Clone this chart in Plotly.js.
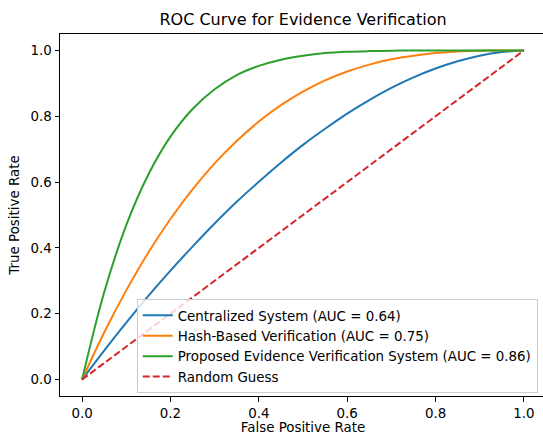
<!DOCTYPE html>
<html>
<head>
<meta charset="utf-8">
<script src="https://cdn.plot.ly/plotly-3.0.1.min.js"></script>
<style>
html, body { margin: 0; padding: 0; overflow: hidden; background: #fff; }
#chart { width: 550px; height: 435px; }
</style>
</head>
<body>
<div id="chart"></div>
<script>
// False positive rate grid
const fpr = [0, 0.05, 0.1, 0.15, 0.2, 0.25, 0.3, 0.35, 0.4, 0.45, 0.5,
             0.55, 0.6, 0.65, 0.7, 0.75, 0.8, 0.85, 0.9, 0.95, 1.0];

// True positive rates
const tprCentralized = [0, 0.088, 0.173, 0.254, 0.331, 0.404, 0.474, 0.540, 0.601, 0.659, 0.713,
                        0.762, 0.808, 0.849, 0.886, 0.918, 0.945, 0.967, 0.984, 0.995, 1.0];
const tprHash = [0, 0.143, 0.271, 0.386, 0.488, 0.578, 0.657, 0.725, 0.784, 0.834, 0.875,
                 0.909, 0.936, 0.957, 0.973, 0.984, 0.992, 0.997, 0.999, 1.0, 1.0];
const tprProposed = [0, 0.265, 0.469, 0.623, 0.738, 0.822, 0.882, 0.925, 0.953, 0.972, 0.984,
                     0.992, 0.996, 0.998, 0.999, 1.0, 1.0, 1.0, 1.0, 1.0, 1.0];
const randomX = [0, 1];
const randomY = [0, 1];

const seriesNames = [
  "Centralized System (AUC = 0.64)",
  "Hash-Based Verification (AUC = 0.75)",
  "Proposed Evidence Verification System (AUC = 0.86)",
  "Random Guess"
];
const tickVals = [0, 0.2, 0.4, 0.6, 0.8, 1.0];
const tickText = ["0.0", "0.2", "0.4", "0.6", "0.8", "1.0"];

const FONT = "DejaVu Sans, sans-serif";

const traces = [
  { x: fpr, y: tprCentralized, name: seriesNames[0], mode: "lines",
    line: { color: "#1f77b4", width: 2, shape: "spline", smoothing: 1 } },
  { x: fpr, y: tprHash, name: seriesNames[1], mode: "lines",
    line: { color: "#ff7f0e", width: 2, shape: "spline", smoothing: 1 } },
  { x: fpr, y: tprProposed, name: seriesNames[2], mode: "lines",
    line: { color: "#2ca02c", width: 2, shape: "spline", smoothing: 1 } },
  { x: randomX, y: randomY, name: seriesNames[3], mode: "lines",
    line: { color: "#d62728", width: 2, dash: "7px,3px" } }
];

const axisCommon = {
  showgrid: false, zeroline: false,
  showline: true, mirror: true, linecolor: "#000", linewidth: 1,
  ticks: "outside", ticklen: 4.5, tickwidth: 1, tickcolor: "#000",
  tickvals: tickVals, ticktext: tickText,
  tickfont: { family: FONT, size: 13.4, color: "#000" }
};

const layout = {
  width: 550, height: 435,
  margin: { l: 60, r: 4, t: 34, b: 39 },
  paper_bgcolor: "#fff", plot_bgcolor: "#fff",
  font: { family: FONT, size: 13.4, color: "#000" },
  title: { text: "ROC Curve for Evidence Verification",
           font: { family: FONT, size: 16, color: "#000" },
           x: 0.5, xref: "paper", xanchor: "center",
           y: 1 - 19 / 435, yref: "container", yanchor: "middle" },
  xaxis: Object.assign({}, axisCommon, {
    range: [-0.05, 1.05],
    title: { text: "False Positive Rate", font: { family: FONT, size: 13.4, color: "#000" }, standoff: 5 }
  }),
  yaxis: Object.assign({}, axisCommon, {
    range: [-0.05, 1.05],
    title: { text: "True Positive Rate", font: { family: FONT, size: 13.4, color: "#000" }, standoff: 7 }
  }),
  showlegend: true,
  legend: {
    x: 0.983, y: 0.008, xanchor: "right", yanchor: "bottom",
    bgcolor: "rgba(255,255,255,0.8)", bordercolor: "#cccccc", borderwidth: 1,
    font: { family: FONT, size: 13.4, color: "#000" },
    itemwidth: 30
  }
};

Plotly.newPlot("chart", traces, layout, { displayModeBar: false, staticPlot: true });
</script>
</body>
</html>
